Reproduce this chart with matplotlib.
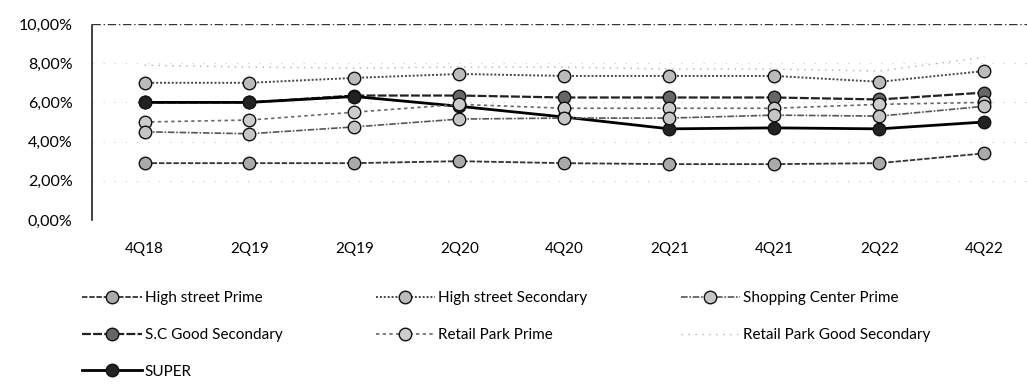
import matplotlib
matplotlib.use("Agg")
from matplotlib import pyplot as plt
from matplotlib.ticker import FuncFormatter
import numpy as np

plt.rcParams['font.family'] = ['Lato', 'DejaVu Sans']

quarters = ["4Q18", "2Q19", "2Q19", "2Q20", "4Q20", "2Q21", "4Q21", "2Q22", "4Q22"]

high_street_prime = [2.9, 2.9, 2.9, 3.0, 2.9, 2.85, 2.85, 2.9, 3.4]
high_street_secondary = [7.0, 7.0, 7.25, 7.45, 7.35, 7.35, 7.35, 7.05, 7.6]
shopping_center_prime = [4.5, 4.4, 4.75, 5.15, 5.2, 5.2, 5.35, 5.3, 5.8]
sc_good_secondary = [6.0, 6.0, 6.35, 6.35, 6.25, 6.25, 6.25, 6.15, 6.5]
retail_park_prime = [5.0, 5.1, 5.5, 5.9, 5.7, 5.7, 5.7, 5.9, 6.0]
retail_park_good_secondary = [7.9, 7.8, 7.75, 7.8, 7.8, 7.7, 7.7, 7.6, 8.3]
super_yield = [6.0, 6.0, 6.3, 5.8, 5.25, 4.65, 4.7, 4.65, 5.0]

fig = plt.figure(figsize=(10.27, 3.92), dpi=100)
ax = fig.add_axes([0.0896, 0.4388, 0.920, 0.50])

x = np.arange(len(quarters))

# (label, values, color, linestyle, linewidth, marker face)
series = [
    ("High street Prime", high_street_prime, "#333333", (0, (3, 1)), 1.3, "#aaaaaa"),
    ("S.C Good Secondary", sc_good_secondary, "#222222", (0, (4, 1)), 1.6, "#666666"),
    ("SUPER", super_yield, "#000000", "-", 2.0, "#222222"),
    ("High street Secondary", high_street_secondary, "#444444", (0, (1, 1)), 1.4, "#bbbbbb"),
    ("Retail Park Prime", retail_park_prime, "#666666", (0, (2, 2)), 1.2, "#cccccc"),
    ("Shopping Center Prime", shopping_center_prime, "#555555", (0, (4, 1, 1, 1)), 1.2, "#c5c5c5"),
    ("Retail Park Good Secondary", retail_park_good_secondary, "#b0b0b0", (0, (1, 4)), 1.0, None),
]

for label, vals, col, ls, lw, mfc in series:
    if mfc is None:
        ax.plot(x, vals, color=col, linestyle=ls, linewidth=lw, label=label)
    else:
        ax.plot(x, vals, color=col, linestyle=ls, linewidth=lw, marker="o",
                markersize=9, markerfacecolor=mfc, markeredgecolor="#111111",
                markeredgewidth=1.0, label=label)

ax.set_xlim(-0.5, len(quarters) - 0.5)
ax.set_ylim(0, 10)
ax.set_yticks([0, 2, 4, 6, 8, 10])
ax.yaxis.set_major_formatter(FuncFormatter(lambda v, p: f"{v:.2f}".replace(".", ",") + "%"))
ax.set_xticks(x)
ax.set_xticklabels(quarters)
ax.tick_params(axis="y", length=0, pad=14, labelsize=11.5)
ax.tick_params(axis="x", length=0, pad=16, labelsize=11)

for gy in [2, 4, 6, 8]:
    ax.axhline(gy, color="#c8c8c8", linestyle=(0, (1, 9)), linewidth=0.8, zorder=0)
ax.axhline(10, color="#333333", linestyle=(0, (6, 2, 1, 2)), linewidth=1.0, zorder=0)

for s in ["top", "right", "bottom"]:
    ax.spines[s].set_visible(False)
ax.spines["left"].set_linestyle((0, (1, 1)))
ax.spines["left"].set_color("#222222")
ax.spines["left"].set_linewidth(1.2)

handles, labels = ax.get_legend_handles_labels()
fig.legend(handles, labels, loc="upper left", bbox_to_anchor=(82 / 1027, 1 - 291 / 392),
           ncol=3, frameon=False, fontsize=11, handlelength=3.9, handletextpad=0.2,
           columnspacing=6.1, labelspacing=1.5, borderpad=0, borderaxespad=0)

fig.savefig("out.png", dpi=100)
